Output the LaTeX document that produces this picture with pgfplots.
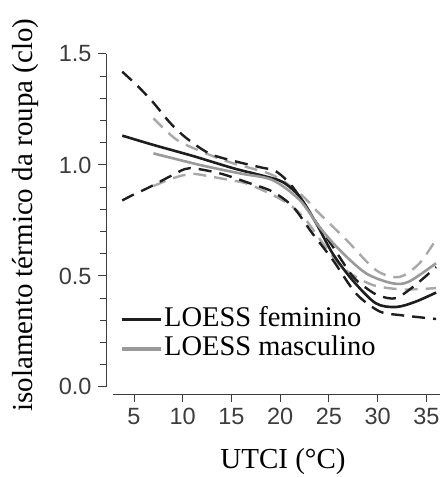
\documentclass[border=0pt]{standalone}
\usepackage{pgfplots}
\pgfplotsset{compat=1.18}
\usepackage{fontspec}
\setmainfont{Liberation Serif}
\newfontfamily\ticksans{Liberation Sans}

\definecolor{fem}{HTML}{1E1E1E}
\definecolor{masc}{HTML}{9A9A9A}
\definecolor{mascband}{HTML}{A8A8A8}
\definecolor{axisgray}{HTML}{3C3C3C}

\begin{document}
\begin{tikzpicture}
\begin{axis}[
  scale only axis, width=334pt, height=394pt,
  xmin=2.13, xmax=36.4, ymin=-0.032, ymax=1.743,
  axis x line*=bottom, axis y line*=left,
  axis line style={draw=none},
  clip=false,
  tick align=outside,
  major tick length=8pt, minor tick length=6pt,
  every tick/.style={axisgray, line width=0.9pt},
  xtick={5,10,...,35},
  ytick={0,0.5,1,1.5},
  minor ytick={0.1,0.2,0.3,0.4,0.6,0.7,0.8,0.9,1.1,1.2,1.3,1.4},
  /pgf/number format/assume math mode=true,
  xticklabel style={font=\ticksans\fontsize{23.5}{23.5}\selectfont, text=axisgray, yshift=-3pt},
  yticklabel style={font=\ticksans\fontsize{23.5}{23.5}\selectfont, text=axisgray, xshift=-3pt,
    /pgf/number format/.cd, fixed, fixed zerofill, precision=1},
  ylabel={isolamento térmico da roupa (clo)},
  ylabel style={font=\fontsize{29}{29}\selectfont, at={(axis description cs:-0.2425,0.454)}, anchor=center},
  xlabel={UTCI (°C)},
  xlabel style={font=\fontsize{29}{29}\selectfont, at={(axis description cs:0.53,-0.1726)}, anchor=center},
  legend style={draw=none, fill=none, font=\fontsize{28.5}{28.5}\selectfont,
    at={(axis description cs:0.042,0.152)}, anchor=west, inner sep=0pt,
    nodes={inner sep=1.5pt, text height=20pt, text depth=6.5pt}},
  legend cell align=left,
  legend image code/.code={\draw[#1, solid, line width=3.4pt] (0pt,0pt) -- (39pt,0pt);},
  dashed band/.style={line width=2.4pt, dash pattern=on 13pt off 8pt, smooth},
]
% axis lines drawn in the R style: detached and limited to the tick range
\draw[axisgray, line width=0.9pt] (axis cs:2.13,0) -- (axis cs:2.13,1.5);
\draw[axisgray, line width=0.9pt] (axis cs:2.85,-0.032) -- (axis cs:36.4,-0.032);

% masculino: confidence band
\addplot[mascband, dashed band, forget plot] coordinates {
  (7,1.21) (9.4,1.113) (12.5,1.05) (15.2,1.007) (19.2,0.955) (22,0.872)
  (24,0.782) (26.8,0.662) (29.8,0.527) (32.2,0.495) (34.3,0.557) (36,0.665)};
\addplot[mascband, dashed band, forget plot] coordinates {
  (7,0.905) (9,0.94) (10.9,0.96) (12.8,0.948) (14.8,0.932) (16.5,0.917)
  (18.9,0.872) (21,0.82) (22.5,0.76) (24,0.67) (26.1,0.55) (28,0.49)
  (29.8,0.455) (32.2,0.44) (34,0.44) (36,0.445)};

% feminino: confidence band
\addplot[fem, dashed band, forget plot] coordinates {
  (3.8,1.42) (5.5,1.35) (7,1.28) (8.7,1.19) (10.4,1.12) (12.8,1.05)
  (15.5,1.015) (17.9,0.99) (19.6,0.97) (21.3,0.90) (23.3,0.767) (25.4,0.632)
  (27.4,0.50) (29,0.44) (30.2,0.41) (31.9,0.40) (33.9,0.46) (36,0.54)};
\addplot[fem, dashed band, forget plot] coordinates {
  (3.8,0.84) (4.9,0.865) (6.6,0.90) (9,0.955) (10.7,0.985) (13.8,0.962)
  (16.9,0.917) (19.2,0.88) (21.3,0.812) (23.3,0.692) (25.4,0.572)
  (27.8,0.42) (30.2,0.34) (32.2,0.324) (36,0.306)};

% LOESS fits
\addplot[fem, line width=2.6pt, smooth] coordinates {
  (3.8,1.132) (7,1.09) (11.07,1.04) (15.2,0.985) (18.6,0.947) (20.3,0.922)
  (22.0,0.857) (23.7,0.737) (25.4,0.60) (27.4,0.482) (29.8,0.377)
  (31.9,0.36) (33.9,0.384) (36,0.425)};
\addlegendentry{LOESS feminino}
\addplot[masc, line width=2.6pt, smooth] coordinates {
  (7,1.052) (11.75,1.0) (15.85,0.962) (19.2,0.932) (22,0.842) (24,0.722)
  (26.1,0.617) (28.8,0.512) (31.5,0.467) (33.2,0.474) (36,0.557)};
\addlegendentry{LOESS masculino}

\coordinate (bl) at (rel axis cs:0,0);
\coordinate (tr) at (rel axis cs:1,1);
\end{axis}
\pgfresetboundingbox
\useasboundingbox ([xshift=-106pt,yshift=-83pt]bl) rectangle (tr);
\end{tikzpicture}
\end{document}
